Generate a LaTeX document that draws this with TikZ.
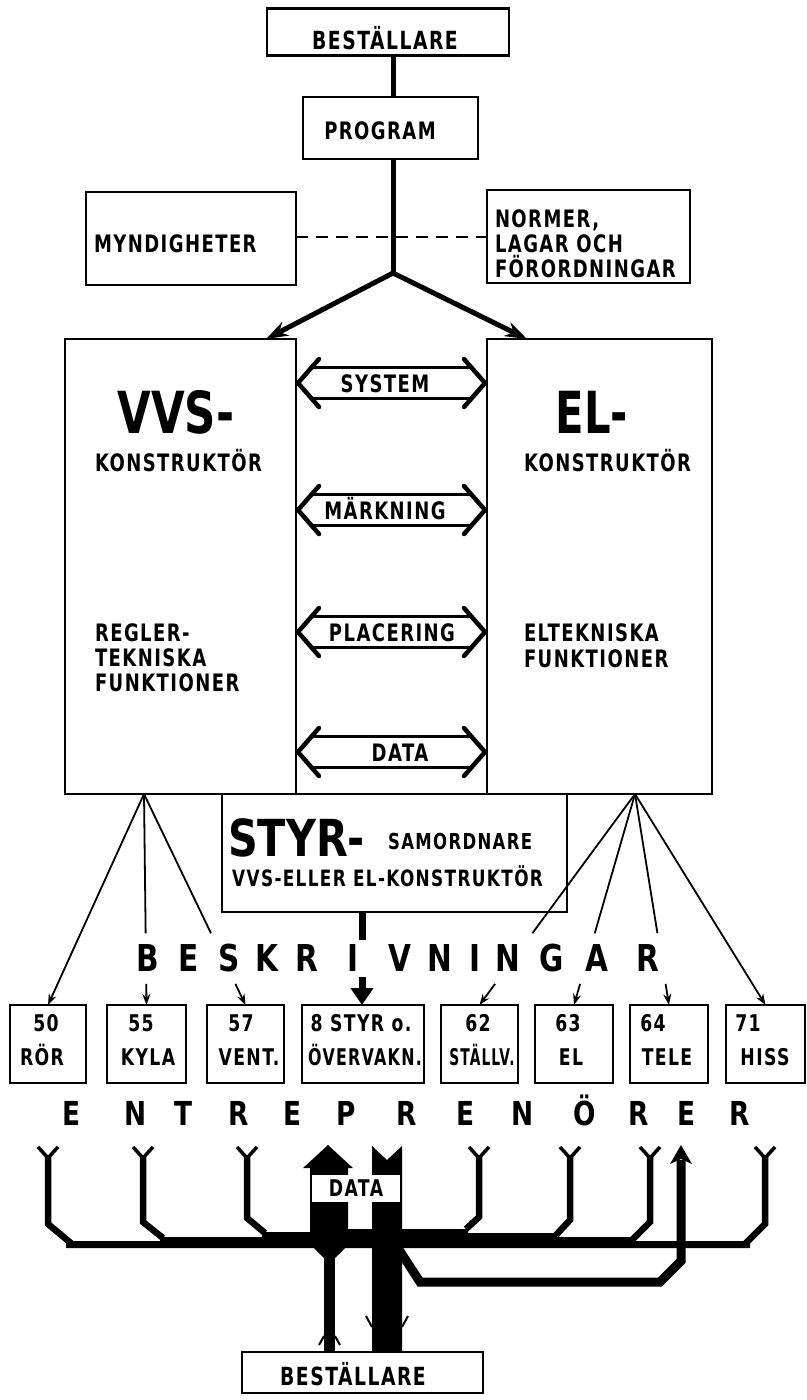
\documentclass[tikz,border=0pt]{standalone}
\usepackage{fontspec}
\setmainfont{DejaVu Sans}
\newfontfamily\lett{DejaVu Sans}[FakeStretch=0.75,LetterSpace=6]
\usetikzlibrary{arrows.meta,calc}
\begin{document}
\begin{tikzpicture}[x=1pt,y=-1pt,
  box/.style={draw,line width=2.2pt,inner sep=0pt,outer sep=0pt},
  lbl/.style={inner sep=0pt,outer sep=0pt,anchor=base west,font=\lett\bfseries\fontsize{24}{28}\selectfont},
  lblc/.style={inner sep=0pt,outer sep=0pt,anchor=base,font=\lett\bfseries\fontsize{24}{28}\selectfont},
  small/.style={inner sep=0pt,outer sep=0pt,anchor=base,font=\lett\bfseries\fontsize{23}{26}\selectfont},
  huge/.style={inner sep=0pt,outer sep=0pt,anchor=base,font=\fontsize{58}{60}\selectfont\bfseries},
  spaced/.style={inner sep=0pt,outer sep=0pt,anchor=base,font=\fontsize{37}{40}\selectfont\bfseries},
  spacedE/.style={inner sep=0pt,outer sep=0pt,anchor=base,font=\fontsize{33}{36}\selectfont\bfseries},
  thin/.style={line width=1.8pt,-{Stealth[length=11pt,width=8pt]}},
  thinseg/.style={line width=1.8pt},
  heavy/.style={line width=5pt},
  chev/.style={line width=4.5pt,line cap=round,line join=round},
  shaft/.style={line width=2.5pt},
  pipe/.style={line width=6.5pt,line join=miter},
  fork/.style={line width=3.5pt},
]
\fill[white] (0,0) rectangle (806,1400);
\useasboundingbox (0,0) rectangle (806,1400);

% ---------- upper part ----------
\node[box,minimum width=242pt,minimum height=47pt] (top) at (388,32) {};
\node[lblc,font=\lett\bfseries\fontsize{25}{28}\selectfont] (topT) at (385,49) {BESTÄLLARE};
\node[box,minimum width=175pt,minimum height=62pt] (prog) at (390.5,128) {};
\node[lblc] (progT) at (380,139) {PROGRAM};

\node[box,minimum width=210pt,minimum height=93pt] (myn) at (191,238.5) {};
\node[lbl] (mynT) at (94,252) {MYNDIGHETER};
\node[box,minimum width=203pt,minimum height=93pt] (norm) at (588.5,236.5) {};
\node[lbl] (normT1) at (495,227) {NORMER,};
\node[lbl] (normT2) at (495,252) {LAGAR OCH};
\node[lbl] (normT3) at (495,277) {FÖRORDNINGAR};

\coordinate (J) at (393,273);
\draw[heavy] (top.south -| J) -- (prog.north -| J);
\draw[heavy] (prog.south -| J) -- (J);
\draw[line width=2pt,dash pattern=on 12pt off 8pt] (myn.east |- 0,237) -- (norm.west |- 0,237);

% ---------- designers ----------
\node[box,minimum width=231pt,minimum height=455pt] (vvs) at (180.5,566.5) {};
\node[box,minimum width=225pt,minimum height=455pt] (el) at (599.5,566.5) {};
\draw[heavy,-{Stealth[length=22pt,width=15pt]}] (J) -- (vvs.north -| 266,0);
\draw[heavy,-{Stealth[length=22pt,width=15pt]}] (J) -- (el.north -| 527,0);

\node[huge] (vvsT) at (176,433) {\scalebox{0.75}[1]{VVS-}};
\node[huge] (elT) at (592,433) {\scalebox{0.72}[1]{EL-}};
\node[lbl] (vvsK) at (95,471) {KONSTRUKTÖR};
\node[lbl] (elK) at (524,471) {KONSTRUKTÖR};
\node[lbl] (vvsF1) at (95,641) {REGLER-};
\node[lbl] (vvsF2) at (95,666) {TEKNISKA};
\node[lbl] (vvsF3) at (95,691) {FUNKTIONER};
\node[lbl] (elF1) at (524,641) {ELTEKNISKA};
\node[lbl] (elF2) at (524,667) {FUNKTIONER};

% double arrows between the two designers
\foreach \c/\t/\tx [count=\i] in {383/SYSTEM/385, 510/MÄRKNING/385, 632/PLACERING/392, 752/DATA/400} {
  \coordinate (aL\i) at (vvs.east |- 0,\c);
  \coordinate (aR\i) at (el.west |- 0,\c);
  \draw[shaft] ($(aL\i)+(16,-15.5)$) -- ($(aR\i)+(-16,-15.5)$);
  \draw[shaft] ($(aL\i)+(16,15.5)$) -- ($(aR\i)+(-16,15.5)$);
  \draw[chev] ($(aL\i)+(23,-24)$) -- ($(aL\i)+(2,0)$) -- ($(aL\i)+(23,24)$);
  \draw[chev] ($(aR\i)+(-23,-24)$) -- ($(aR\i)+(-2,0)$) -- ($(aR\i)+(-23,24)$);
  \node[lblc] (aT\i) at (\tx,\c+9) {\t};
}

% ---------- coordinator ----------
\node[box,minimum width=345pt,minimum height=118pt] (styr) at (394.5,853) {};
\node[inner sep=0pt,anchor=base west,font=\fontsize{51}{54}\selectfont\bfseries] (styrT) at (228,856) {\scalebox{0.81}[1]{STYR-}};
\node[inner sep=0pt,anchor=base west,font=\lett\bfseries\fontsize{22}{26}\selectfont] (styrS) at (388,849) {SAMORDNARE};
\node[inner sep=0pt,anchor=base west,font=\lett\bfseries\fontsize{22.5}{26}\selectfont] (styrK) at (232,886) {VVS-ELLER EL-KONSTRUKTÖR};

% ---------- descriptions ----------
\foreach \x/\l [count=\i] in {148/B,189/E,229/S,267/K,307/R,353/I,400/V,440/N,475/I,508/N,552/G,597/A,648/R}
  \node[spaced] (bk\i) at (\x,971.5) {\scalebox{0.8}[1]{\l}};

\node[box,minimum width=76pt,minimum height=78pt] (b50) at (48,1044) {};
\node[box,minimum width=79pt,minimum height=78pt] (b55) at (146.5,1044) {};
\node[box,minimum width=77pt,minimum height=78pt] (b57) at (245.5,1044) {};
\node[box,minimum width=122pt,minimum height=78pt] (b8) at (363,1044) {};
\node[box,minimum width=77pt,minimum height=78pt] (b62) at (479.5,1044) {};
\node[box,minimum width=78pt,minimum height=78pt] (b63) at (574,1044) {};
\node[box,minimum width=78pt,minimum height=78pt] (b64) at (669,1044) {};
\node[box,minimum width=79pt,minimum height=78pt] (b71) at (765.5,1044) {};

\node[small] (t50a) at (46,1031.5) {50};
\node[small] (t50b) at (42,1065.5) {RÖR};
\node[small] (t55a) at (141,1031.5) {55};
\node[small] (t55b) at (148,1065.5) {KYLA};
\node[small] (t57a) at (241,1031.5) {57};
\node[small] (t57b) at (249,1065.5) {VENT.};
\node[small] (t8a) at (361,1031.5) {8 STYR o.};
\node[small] (t8b) at (365,1065.5) {\scalebox{0.92}[1]{ÖVERVAKN.}};
\node[small] (t62a) at (478,1031.5) {62};
\node[small] (t62b) at (482,1065.5) {\scalebox{0.8}[1]{STÄLLV.}};
\node[small] (t63a) at (568,1031.5) {63};
\node[small] (t63b) at (571,1065.5) {EL};
\node[small] (t64a) at (653,1031.5) {64};
\node[small] (t64b) at (667,1065.5) {TELE};
\node[small] (t71a) at (748,1031.5) {71};
\node[small] (t71b) at (765,1065.5) {HISS};

% distribution lines from the designers to the trade descriptions
\coordinate (fanL) at (144,794);
\coordinate (fanR) at (635,794);
\draw[thin] (fanL) -- (b50.north);
\draw[thin] (fanR) -- (b71.north);
\foreach \f/\b in {fanL/b55, fanL/b57, fanR/b62, fanR/b63, fanR/b64} {
  \draw[thinseg] (\f) -- ($(\f)!0.66!(\b.north)$);
  \draw[thin] ($(\f)!0.90!(\b.north)$) -- (\b.north);
}
\draw[line width=7pt] (styr.south -| 362,0) -- (362,940);
\draw[line width=7pt,-{Triangle[length=17pt,width=22pt]}] (362,977) -- (b8.north -| 362,0);

% ---------- contractors ----------
\foreach \x/\l [count=\i] in {72/E,136/N,184/T,239/R,293/E,346/P,407/R,466/E,523/N,585/Ö,639/R,687/E,740/R}
  \node[spacedE] (en\i) at (\x,1125) {\scalebox{0.8}[1]{\l}};

% collecting pipes
\foreach \s/\dx/\yc/\yb in {48/24/1224/1244, 143/20/1222/1238, 247/18/1218/1233, 479/-13/1217/1229, 570/-14/1220/1235, 650/-17/1222/1239, 765/-20/1224/1244} {
  \draw[fork] (\s-10,1147) -- (\s,1158) -- (\s+10,1147);
  \draw[pipe] (\s,1157) -- (\s,\yc) -- (\s+\dx,\yb);
}
\fill (66,1241) -- (160,1241) -- (160,1237) -- (262,1237) -- (262,1232) -- (310,1232)
  -- (310,1229) -- (468,1229) -- (468,1233) -- (557,1233) -- (557,1237) -- (635,1237)
  -- (635,1241) -- (750,1241) -- (750,1248) -- (66,1248) -- cycle;

% data flow up to the client
\fill (328,1145) -- (353,1168) -- (348,1168) -- (348,1234) -- (310,1234) -- (310,1168) -- (303,1168) -- cycle;
\fill (324,1240) rectangle (335,1352);
\fill (314,1248) -- (324,1248) -- (324,1258) -- cycle;
\fill (345,1248) -- (335,1248) -- (335,1258) -- cycle;
\draw[line width=2pt] (319,1345) -- (324,1336);
\draw[line width=2pt] (340,1345) -- (335,1336);

% data flow down from the client
\fill (372,1146) -- (387,1160) -- (402,1146) -- (402,1352) -- (372,1352) -- cycle;
\draw[line width=2pt] (366,1316) -- (372,1327);
\draw[line width=2pt] (408,1316) -- (402,1327);

% branch to the right
\draw[line width=9pt,line join=miter] (396,1245) -- (420,1282) -- (660,1282) -- (681,1261) -- (681,1160);
\fill (681,1145) -- (692,1164) -- (681,1159) -- (670,1164) -- cycle;

\node[fill=white,inner sep=0pt,minimum width=88pt,minimum height=27pt,font=\lett\bfseries\fontsize{23}{26}\selectfont] (dataL) at (356,1188.5) {DATA};

\node[box,minimum width=241pt,minimum height=41pt] (bot) at (362.5,1372.5) {};
\node[lblc,font=\lett\bfseries\fontsize{25}{28}\selectfont] (botT) at (353,1385) {BESTÄLLARE};
\end{tikzpicture}
\end{document}
